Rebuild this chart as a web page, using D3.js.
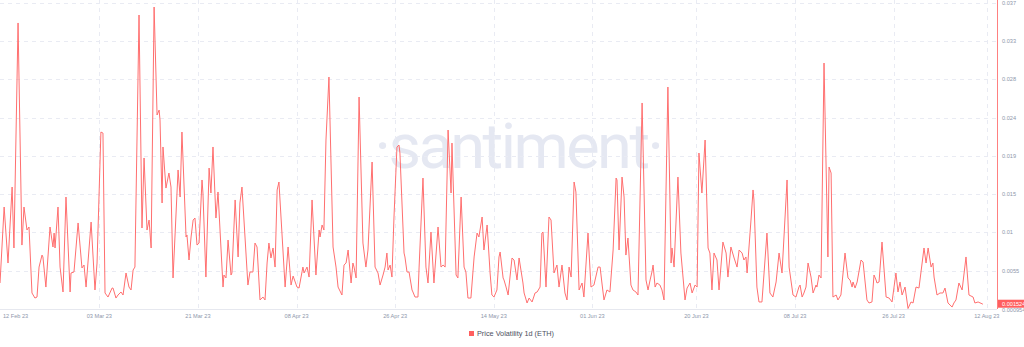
<!DOCTYPE html>
<html>
<head>
<meta charset="utf-8">
<script src="https://cdn.jsdelivr.net/npm/d3@7"></script>
<style>
  body { margin: 0; background: #fff; }
  svg { display: block; font-family: "Liberation Sans", Arial, sans-serif; }
</style>
</head>
<body>
<div id="chart"></div>
<script>
// Price Volatility 1d (ETH) - line chart, santiment style

var svgWidth = 1024,
    svgHeight = 347;

// hours counted from 12 Feb 2023 00:00 UTC
var baseTime = Date.UTC(2023, 1, 12);

var hours = [
  33,51,68,86,94,112,129,138,151,160,173,186,195,204,217,221,234,252,265,270,274,287,296,309,322,340,344,357,375,392,401,410,432,449,458,475,484,493,506,524,528,541,550,563,572,585,598,607,616,624,642,655,664,677,686,695,708,721,730,734,743,747,760,773,782,791,813,822,830,848,852,861,870,879,887,896,905,
  918,922,935,949,957,966,979,988,1010,1014,1023,1032,1045,1049,1063,1076,1084,1093,1115,1119,1128,1141,1150,1159,1172,1185,1194,1203,1211,1220,1229,1238,1247,1255,1282,1295,1308,1317,1334,1343,1360,1365,1378,1387,1400,1417,1431,1435,1444,1452,1461,1474,1492,1505,1514,1531,1540,1549,1558,1571,1579,1584,1593,1606,1623,1636,1645,1663,1676,1689,1698,1711,1720,1728,1733,1742,1750,1759,1772,1781,
  1785,1803,1807,1816,1825,1838,1842,1851,1864,1869,1886,1899,1908,1921,1934,1952,1965,1974,1983,1996,2009,2013,2031,2039,2053,2066,2074,2083,2096,2110,2123,2131,2136,2145,2153,2167,2180,2188,2197,2210,2219,2224,2237,2241,2250,2259,2276,2285,2298,2307,2324,2329,2342,2351,2364,2377,2386,2399,2407,2412,2425,2438,2447,2460,2473,2482,2495,2508,2517,2526,2535,2548,2556,2570,2583,2591,2609,2622,2635,2653,
  2662,2670,2679,2692,2705,2719,2732,2736,2745,2758,2767,2775,2784,2797,2806,2819,2828,2846,2863,2872,2881,2889,2894,2903,2911,2924,2933,2942,2959,2973,2977,2986,3003,3016,3034,3043,3056,3065,3078,3087,3095,3108,3122,3135,3143,3152,3161,3174,3183,3200,3214,3222,3235,3249,3262,3271,3284,3292,3301,3306,3323,3332,3336,3349,3358,3371,3393,3406,3419,3433,3446,3459,3481,3490,3507,3520,3533,
  3538,3547,3555,3564,3573,3586,3595,3608,3612,3621,3630,3643,3660,3665,3674,3682,3696,3704,3717,3735,3748,3757,3766,3770,3779,3788,3805,3814,3831,3840,3853,3862,3871,3875,3884,3897,3915,3928,3941,3958,3967,3976,3985,3998,4011,4024,4033,4046,4059,4081,4090,4099,4112,4120,4125,4138,4151,4164,4173,4186,4204,4212,4221,4234,4248,4265,4278,4296,4304,4318,4335,4339
];

var volatility = [
  0.00405,0.01310,0.00643,0.01548,0.00822,0.03502,0.00857,0.01310,0.01036,0.01072,0.00286,0.00226,0.00238,0.00595,0.00738,0.00715,0.00357,0.01072,0.00834,0.01000,0.00822,0.01310,0.00595,0.00298,0.01429,0.00298,0.00524,0.00536,0.01120,0.00584,0.00619,0.00357,0.01131,0.00322,0.00643,0.02203,0.02191,0.00286,0.00238,0.00345,0.00345,0.00226,0.00262,0.00298,0.00262,0.00524,0.00357,0.00322,0.00560,0.00595,0.03597,0.01060,0.01894,0.01036,0.01155,0.00822,0.03692,0.02406,0.02465,0.02346,0.01358,0.02025,0.01536,0.01715,0.01548,0.00465,0.01751,0.01429,0.02203,0.00953,0.00977,0.00679,0.00953,0.01155,0.01179,0.00857,0.00881,
  0.01632,0.01477,0.00476,0.01774,0.01477,0.02025,0.01179,0.01489,0.00357,0.00500,0.00465,0.00917,0.00500,0.00524,0.01394,0.00715,0.01358,0.01548,0.00560,0.00381,0.00536,0.00536,0.00881,0.00834,0.00203,0.00238,0.00203,0.00643,0.00881,0.00703,0.00822,0.00595,0.01513,0.01608,0.00357,0.00834,0.00381,0.00488,0.00357,0.00345,0.00595,0.00524,0.00595,0.00476,0.01394,0.00500,0.01036,0.00953,0.01096,0.01036,0.02108,0.02858,0.00834,0.00595,0.00357,0.00262,0.00619,0.00643,0.00798,0.00405,0.00643,0.00595,0.00465,0.02620,0.00881,0.00595,0.00798,0.01846,0.00595,0.00524,0.00381,0.00500,0.00595,0.00762,0.00560,0.00619,0.00476,0.01191,0.02025,0.02048,
  0.01953,0.00762,0.00715,0.00536,0.00536,0.00322,0.00298,0.00238,0.00238,0.00595,0.01655,0.00595,0.00405,0.01012,0.00405,0.01072,0.00595,0.00619,0.00595,0.02227,0.01477,0.02072,0.00500,0.00465,0.01429,0.00595,0.00536,0.00226,0.00226,0.00715,0.01000,0.00953,0.01036,0.01191,0.00798,0.01096,0.00524,0.00262,0.00238,0.00322,0.00715,0.00774,0.00465,0.00441,0.00357,0.00262,0.00703,0.00679,0.00441,0.00703,0.00405,0.00286,0.00167,0.00226,0.00179,0.00286,0.00298,0.00357,0.01000,0.01012,0.00357,0.01191,0.01155,0.00524,0.00619,0.00357,0.00619,0.00286,0.00203,0.00595,0.00476,0.01608,0.01489,0.00322,0.00405,0.00238,0.01000,0.00357,0.00381,0.00595,
  0.00595,0.00405,0.00203,0.00322,0.00298,0.00798,0.01655,0.01632,0.00798,0.01667,0.01429,0.00738,0.00941,0.00381,0.00322,0.00298,0.00262,0.02549,0.00441,0.00322,0.00441,0.00536,0.00619,0.00357,0.00405,0.00381,0.00322,0.00203,0.02739,0.00643,0.00822,0.00595,0.01667,0.00762,0.00203,0.00345,0.00405,0.00286,0.00381,0.00357,0.01953,0.01477,0.02108,0.00822,0.00762,0.00322,0.00762,0.00679,0.00322,0.00893,0.00762,0.00476,0.00834,0.00703,0.00595,0.00798,0.00762,0.00679,0.00715,0.00524,0.01155,0.01513,0.01394,0.00357,0.00179,0.00179,0.01000,0.00286,0.00238,0.00417,0.00762,0.00524,0.01632,0.00595,0.00262,0.00238,0.00357,
  0.00381,0.00238,0.00286,0.00357,0.00643,0.00476,0.00286,0.00381,0.00357,0.00500,0.00465,0.03025,0.00715,0.01786,0.01715,0.00238,0.00262,0.00203,0.00262,0.00762,0.00465,0.00441,0.00357,0.00417,0.00345,0.00417,0.00679,0.00655,0.00203,0.00167,0.00179,0.00500,0.00441,0.00405,0.00417,0.00893,0.00238,0.00226,0.00179,0.00524,0.00298,0.00417,0.00262,0.00357,0.00101,0.00179,0.00167,0.00357,0.00345,0.00822,0.00643,0.00822,0.00595,0.00643,0.00476,0.00262,0.00286,0.00286,0.00345,0.00167,0.00119,0.00167,0.00203,0.00405,0.00322,0.00715,0.00262,0.00238,0.00167,0.00179,0.00158,0.001524
];

// axis values
var yMin = 0.000954,
    yMax = 0.0374;
var yTickValues = [0.00551, 0.01007, 0.01462, 0.01918, 0.02374, 0.02829, 0.03285, 0.0374];
var yTickLabels = ["0.0055", "0.01", "0.015", "0.019", "0.024", "0.028", "0.033", "0.037"];
var xTickDates = ["2023-03-03", "2023-03-21", "2023-04-08", "2023-04-26", "2023-05-14",
                  "2023-06-01", "2023-06-20", "2023-07-08", "2023-07-26", "2023-08-12"];
var firstDateLabel = "12 Feb 23";
var lastValueLabel = "0.001524";
var seriesName = "Price Volatility 1d (ETH)";

var data = hours.map((h, i) => ({date: new Date(baseTime + h * 3600e3), value: volatility[i]}));

var plot = {left: 0, right: 997, top: 3, bottom: 309};

var svg = d3.select("#chart")
    .append("svg")
        .attr("width", svgWidth)
        .attr("height", svgHeight);

var x = d3.scaleUtc()
    .domain([new Date(Date.UTC(2023, 1, 13, 8, 54)), new Date(Date.UTC(2023, 7, 14, 8, 48))])
    .range([plot.left, plot.right]);

var y = d3.scaleLinear()
    .domain([yMin, yMax])
    .range([plot.bottom, plot.top]);

var fmtDate = d3.utcFormat("%d %b %y");
var tickDates = xTickDates.map(s => new Date(s + "T12:00:00Z"));

// watermark
svg.append("text")
    .attr("x", 518)
    .attr("y", 168)
    .attr("text-anchor", "middle")
    .attr("font-family", "Roboto, sans-serif")
    .attr("font-weight", 400)
    .attr("font-size", "63px")
    .attr("letter-spacing", "-2.5px")
    .attr("fill", "#e5e8f2")
    .text("·santiment·");

// horizontal grid
svg.append("g")
    .selectAll("line")
    .data(yTickValues)
    .enter().append("line")
        .attr("x1", plot.left)
        .attr("x2", plot.right)
        .attr("y1", d => Math.round(y(d)) + 0.5)
        .attr("y2", d => Math.round(y(d)) + 0.5)
        .attr("stroke", "#e9ebf3")
        .attr("stroke-dasharray", "4,4");

// vertical grid
svg.append("g")
    .selectAll("line")
    .data(tickDates)
    .enter().append("line")
        .attr("x1", d => Math.round(x(d)) + 0.5)
        .attr("x2", d => Math.round(x(d)) + 0.5)
        .attr("y1", plot.top - 3)
        .attr("y2", plot.bottom)
        .attr("stroke", "#e9ebf3")
        .attr("stroke-dasharray", "4,4");

// bottom axis line
svg.append("line")
    .attr("x1", plot.left)
    .attr("x2", plot.right)
    .attr("y1", plot.bottom + 0.5)
    .attr("y2", plot.bottom + 0.5)
    .attr("stroke", "#e6e8ef");

// x labels
var xLabels = svg.append("g")
    .attr("font-size", "5.6px")
    .attr("fill", "#8e97ab");

xLabels.selectAll("text")
    .data(tickDates)
    .enter().append("text")
        .attr("x", d => x(d))
        .attr("y", 318)
        .attr("text-anchor", "middle")
        .text(d => fmtDate(d));

xLabels.append("text")
    .attr("x", plot.left + 3)
    .attr("y", 318)
    .text(firstDateLabel);

// the line
var line = d3.line()
    .x(d => x(d.date))
    .y(d => y(d.value));

svg.append("path")
    .datum(data)
    .attr("d", line)
    .attr("fill", "none")
    .attr("stroke", "#ff6f6f")
    .attr("stroke-width", 1)
    .attr("stroke-linejoin", "round");

// right axis
svg.append("line")
    .attr("x1", plot.right + 0.5)
    .attr("x2", plot.right + 0.5)
    .attr("y1", 0)
    .attr("y2", plot.bottom)
    .attr("stroke", "#ff8080");

var yLabels = svg.append("g")
    .attr("font-size", "5.6px")
    .attr("fill", "#8e97ab");

yLabels.selectAll("text")
    .data(yTickValues)
    .enter().append("text")
        .attr("x", plot.right + 5)
        .attr("y", d => y(d))
        .attr("dy", "0.35em")
        .text((d, i) => yTickLabels[i]);

yLabels.append("text")
    .attr("x", plot.right + 5)
    .attr("y", y(yMin))
    .attr("dy", "0.45em")
    .text(yMin.toString());

// last value badge
var last = data[data.length - 1];
svg.append("rect")
    .attr("x", plot.right + 1)
    .attr("y", y(last.value) - 4.5)
    .attr("width", svgWidth - plot.right - 1)
    .attr("height", 8)
    .attr("fill", "#ff5f5f");

svg.append("text")
    .attr("x", plot.right + 5)
    .attr("y", y(last.value))
    .attr("dy", "0.3em")
    .attr("font-size", "5.6px")
    .attr("fill", "#fff")
    .text(lastValueLabel);

// legend
var legend = svg.append("g");
legend.append("rect")
    .attr("x", 469)
    .attr("y", 331)
    .attr("width", 5)
    .attr("height", 5)
    .attr("fill", "#ff5f5f");
legend.append("text")
    .attr("x", 477)
    .attr("y", 336)
    .attr("font-size", "7.3px")
    .attr("fill", "#4c5162")
    .text(seriesName);
</script>
</body>
</html>
